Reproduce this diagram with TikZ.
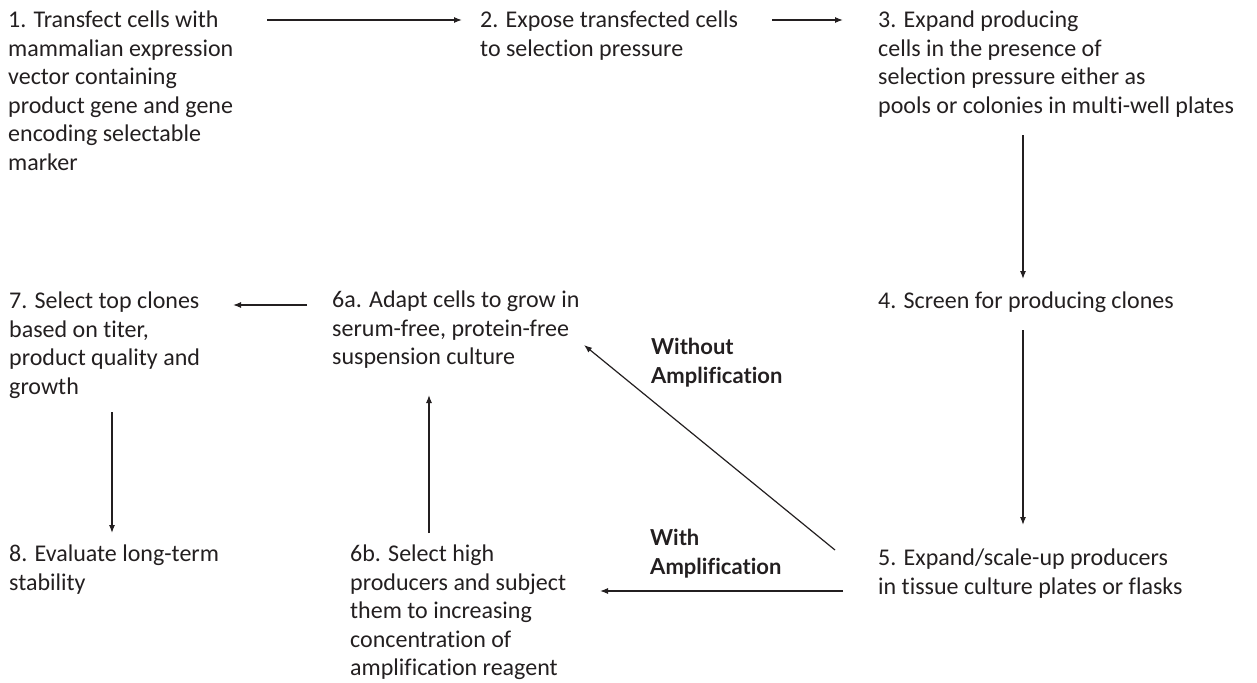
\documentclass[tikz,border=0pt]{standalone}
\usepackage{fontspec}
\setmainfont{Carlito}[Ligatures=NoCommon]
\newfontfamily\labelfont{Lato}[Ligatures=NoCommon]
\usetikzlibrary{arrows.meta}
\tikzset{>={Latex[length=8pt,width=6pt]}}
\definecolor{ink}{HTML}{231F20}
\tikzset{
  stepnode/.style={anchor=north west, inner sep=0pt, align=left, text=ink,
    font=\fontsize{24}{28.5}\selectfont},
  routelabel/.style={anchor=north west, inner sep=0pt, align=left, text=ink,
    font=\labelfont\bfseries\fontsize{22}{28.5}\selectfont},
  flow/.style={->, draw=ink, line width=1.2pt}
}

\begin{document}
\begin{tikzpicture}[x=1pt,y=-1pt]
      \useasboundingbox (0,0) rectangle (1257,682);
      % top row
      \node[stepnode] (n1) at (8,11) {1. Transfect cells with\\mammalian expression\\vector containing\\product gene and gene\\encoding selectable\\marker};
      \node[stepnode] (n2) at (480,11) {2. Expose transfected cells\\to selection pressure};
      \node[stepnode] (n3) at (878,11) {3. Expand producing\\cells in the presence of\\selection pressure either as\\pools or colonies in multi-well plates};
      % middle row
      \node[stepnode] (n7) at (9,292) {7. Select top clones\\based on titer,\\product quality and\\growth};
      \node[stepnode] (n6a) at (332,291) {6a. Adapt cells to grow in\\serum-free, protein-free\\suspension culture};
      \node[stepnode] (n4) at (878,292) {4. Screen for producing clones};
      % bottom row
      \node[stepnode] (n8) at (9,545) {8. Evaluate long-term\\stability};
      \node[stepnode] (n6b) at (350,545) {6b. Select high\\producers and subject\\them to increasing\\concentration of\\amplification reagent};
      \node[stepnode] (n5) at (878,549) {5. Expand/scale-up producers\\in tissue culture plates or flasks};
      % route labels
      \node[routelabel] (without) at (651,338) {Without\\Amplification};
      \node[routelabel] (with) at (650,529) {With\\Amplification};
      %
      \draw[flow] ([xshift=259pt,yshift=-9pt]n1.north west) -- ([xshift=-18pt,yshift=-9pt]n2.north west);
      \draw[flow] ([xshift=292pt,yshift=-9pt]n2.north west) -- ([xshift=-35pt,yshift=-9pt]n3.north west);
      \draw[flow] ([xshift=145pt,yshift=-124pt]n3.north west) -- ([xshift=145pt,yshift=13pt]n4.north west);
      \draw[flow] ([xshift=145pt,yshift=-38pt]n4.north west) -- ([xshift=145pt,yshift=24pt]n5.north west);
      \draw[flow] ([xshift=-35pt,yshift=-42pt]n5.north west) -- ([xshift=250pt,yshift=-46pt]n6b.north west);
      \draw[flow] ([xshift=-43pt,yshift=-1pt]n5.north west) -- ([xshift=252pt,yshift=-54pt]n6a.north west);
      \draw[flow] ([xshift=79pt,yshift=12pt]n6b.north west) -- ([xshift=97pt,yshift=-104pt]n6a.north west);
      \draw[flow] ([xshift=-25pt,yshift=-14pt]n6a.north west) -- ([xshift=224pt,yshift=-13pt]n7.north west);
      \draw[flow] ([xshift=103pt,yshift=-120pt]n7.north west) -- ([xshift=103pt,yshift=12pt]n8.north west);
\end{tikzpicture}
\end{document}
